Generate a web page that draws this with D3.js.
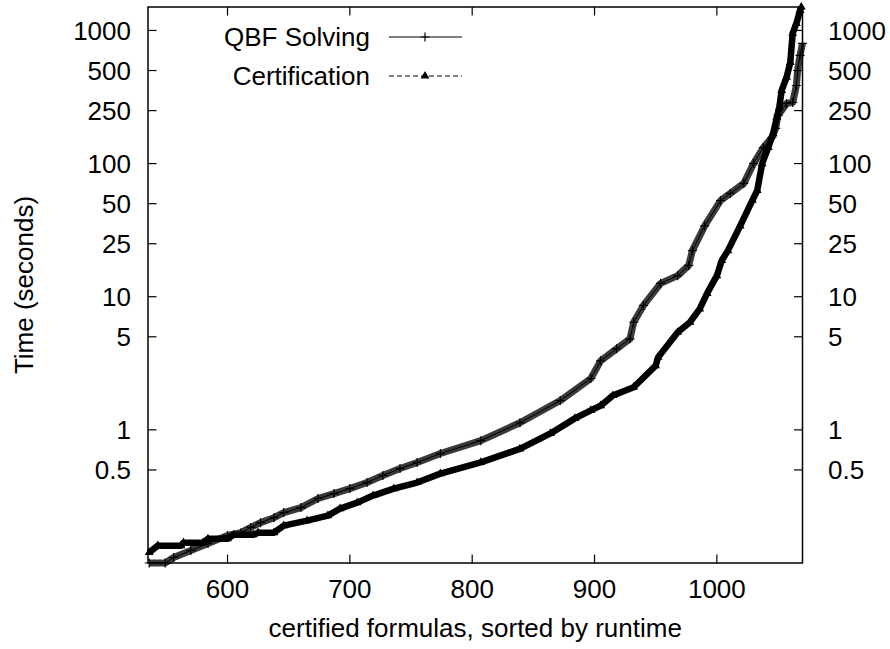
<!DOCTYPE html>
<html>
<head>
<meta charset="utf-8">
<script src="https://cdn.jsdelivr.net/npm/d3@7"></script>
<style>
  body { margin: 0; background: #fff; }
  text { font-family: "Liberation Sans", Arial, sans-serif; fill: #000; }
</style>
</head>
<body>
<div id="chart"></div>
<script>
// values: formula index vs. runtime in seconds
var qbfN = [536, 549, 556, 570, 584, 600, 611, 619, 627, 638, 646, 660, 674, 687, 700, 714, 727, 741, 755, 774,
    807, 839, 872, 897, 905, 918, 929, 932, 940, 954, 968, 977, 980, 990, 1003, 1011, 1022, 1030, 1038, 1045,
    1048, 1050, 1057, 1062, 1065, 1066, 1068, 1070];
var qbfT = [0.1, 0.1, 0.11, 0.124, 0.14, 0.161, 0.169, 0.185, 0.201, 0.219, 0.239, 0.261, 0.305, 0.332, 0.362, 0.402, 0.454, 0.512, 0.568, 0.664,
    0.83, 1.13, 1.66, 2.43, 3.3, 4.06, 4.83, 6.43, 8.6, 12.6, 14.4, 17.2, 22.2, 34, 52.8, 59.7, 71, 100, 132, 157,
    184, 230, 283, 288, 386, 500, 650, 800];

var certN = [536, 543, 562, 564, 580, 584, 600, 605, 621, 625, 638, 646, 665, 682, 692, 706, 719, 736, 755, 774,
    807, 839, 864, 884, 897, 905, 915, 932, 950, 952, 968, 978, 986, 992, 1000, 1004, 1009, 1019, 1029, 1033,
    1037, 1042, 1046, 1049, 1051, 1053, 1057, 1060, 1062, 1065, 1068, 1069];
var certT = [0.12, 0.135, 0.135, 0.142, 0.142, 0.152, 0.152, 0.163, 0.163, 0.169, 0.169, 0.191, 0.208, 0.227, 0.256, 0.284, 0.321, 0.362, 0.402, 0.469,
    0.57, 0.72, 0.94, 1.22, 1.40, 1.52, 1.81, 2.09, 3.04, 3.51, 5.41, 6.43, 8.1, 10.6, 14.4, 18.7, 22.2, 34, 53, 62.8,
    100, 132, 168, 222, 263, 355, 445, 575, 955, 1130, 1415, 1500];

var xTicks = [600, 700, 800, 900, 1000];
var yTicks = [0.5, 1, 5, 10, 25, 50, 100, 250, 500, 1000];

var width = 890, height = 649;
var pLeft = 148, pRight = 802.5, pTop = 7, pBottom = 563;
var fontSize = 26, tickLen = 8.5;

var x = d3.scaleLinear().domain([535, 1070]).range([pLeft, pRight]);
var y = d3.scaleLog().domain([0.1, 1500]).range([pBottom, pTop]);

var svg = d3.select("#chart").append("svg")
    .attr("width", width)
    .attr("height", height);

var qbf = qbfN.map(function(n, i) { return [n, qbfT[i]]; });
var cert = certN.map(function(n, i) { return [n, certT[i]]; });

var line = d3.line()
    .x(function(d) { return x(d[0]); })
    .y(function(d) { return y(d[1]); });

// dense marker band (each formula has its own point in the original)
svg.append("path").datum(qbf)
    .attr("d", line).attr("fill", "none")
    .attr("stroke", "#3a3a3a").attr("stroke-width", 7).attr("stroke-linejoin", "round");
svg.append("path").datum(cert)
    .attr("d", line).attr("fill", "none")
    .attr("stroke", "#000").attr("stroke-width", 6.5).attr("stroke-linejoin", "round");

svg.append("path").datum(qbf)
    .attr("d", line).attr("fill", "none")
    .attr("stroke", "#000").attr("stroke-width", 1);
svg.append("path").datum(cert)
    .attr("d", line).attr("fill", "none")
    .attr("stroke", "#000").attr("stroke-width", 1).attr("stroke-dasharray", "5,3");

function plusPath(cx, cy) {
    var r = 4.5;
    return "M" + (cx - r) + "," + cy + "H" + (cx + r) + "M" + cx + "," + (cy - r) + "V" + (cy + r);
}
var tri = d3.symbol().type(d3.symbolTriangle).size(34);

svg.append("g").selectAll("path")
    .data(qbf)
    .enter().append("path")
    .attr("d", function(d) { return plusPath(x(d[0]), y(d[1])); })
    .attr("stroke", "#000").attr("stroke-width", 1.2).attr("fill", "none");

svg.append("g").selectAll("path")
    .data(cert)
    .enter().append("path")
    .attr("d", tri)
    .attr("transform", function(d) { return "translate(" + x(d[0]) + "," + y(d[1]) + ")"; })
    .attr("fill", "#000");

// frame
svg.append("rect")
    .attr("x", pLeft).attr("y", pTop)
    .attr("width", pRight - pLeft).attr("height", pBottom - pTop)
    .attr("fill", "none").attr("stroke", "#000").attr("stroke-width", 1.5);

// ticks, mirrored on all four sides
var tg = svg.append("g").attr("stroke", "#000").attr("stroke-width", 1.2);
xTicks.forEach(function(t) {
    tg.append("line").attr("x1", x(t)).attr("x2", x(t)).attr("y1", pBottom).attr("y2", pBottom - tickLen);
    tg.append("line").attr("x1", x(t)).attr("x2", x(t)).attr("y1", pTop).attr("y2", pTop + tickLen);
});
yTicks.forEach(function(t) {
    tg.append("line").attr("x1", pLeft).attr("x2", pLeft + tickLen).attr("y1", y(t)).attr("y2", y(t));
    tg.append("line").attr("x1", pRight).attr("x2", pRight - tickLen).attr("y1", y(t)).attr("y2", y(t));
});

svg.append("g").selectAll("text")
    .data(xTicks)
    .enter().append("text")
    .attr("x", function(d) { return x(d); })
    .attr("y", 598)
    .attr("text-anchor", "middle")
    .style("font-size", fontSize + "px")
    .text(function(d) { return d; });

svg.append("g").selectAll("text")
    .data(yTicks)
    .enter().append("text")
    .attr("x", 131)
    .attr("y", function(d) { return y(d); })
    .attr("dy", "0.36em")
    .attr("text-anchor", "end")
    .style("font-size", fontSize + "px")
    .text(function(d) { return d; });

svg.append("g").selectAll("text")
    .data(yTicks)
    .enter().append("text")
    .attr("x", 828)
    .attr("y", function(d) { return y(d); })
    .attr("dy", "0.36em")
    .attr("text-anchor", "start")
    .style("font-size", fontSize + "px")
    .text(function(d) { return d; });

svg.append("text")
    .attr("x", (pLeft + pRight) / 2)
    .attr("y", 637)
    .attr("text-anchor", "middle")
    .style("font-size", fontSize + "px")
    .text("certified formulas, sorted by runtime");

svg.append("text")
    .attr("transform", "translate(33," + ((pTop + pBottom) / 2) + ") rotate(-90)")
    .attr("text-anchor", "middle")
    .style("font-size", fontSize + "px")
    .text("Time (seconds)");

// legend
var legend = [
    { name: "QBF Solving", y: 37, dash: null, mark: "plus" },
    { name: "Certification", y: 76, dash: "5,3", mark: "tri" }
];
legend.forEach(function(l) {
    svg.append("text")
        .attr("x", 370).attr("y", l.y).attr("dy", "0.36em")
        .attr("text-anchor", "end")
        .style("font-size", fontSize + "px")
        .text(l.name);
    svg.append("line")
        .attr("x1", 389).attr("x2", 462).attr("y1", l.y).attr("y2", l.y)
        .attr("stroke", "#000").attr("stroke-width", 1)
        .attr("stroke-dasharray", l.dash);
    if (l.mark === "plus") {
        svg.append("path").attr("d", plusPath(425, l.y))
            .attr("stroke", "#000").attr("stroke-width", 1.2).attr("fill", "none");
    } else {
        svg.append("path").attr("d", tri)
            .attr("transform", "translate(425," + l.y + ")")
            .attr("fill", "#000");
    }
});
</script>
</body>
</html>
